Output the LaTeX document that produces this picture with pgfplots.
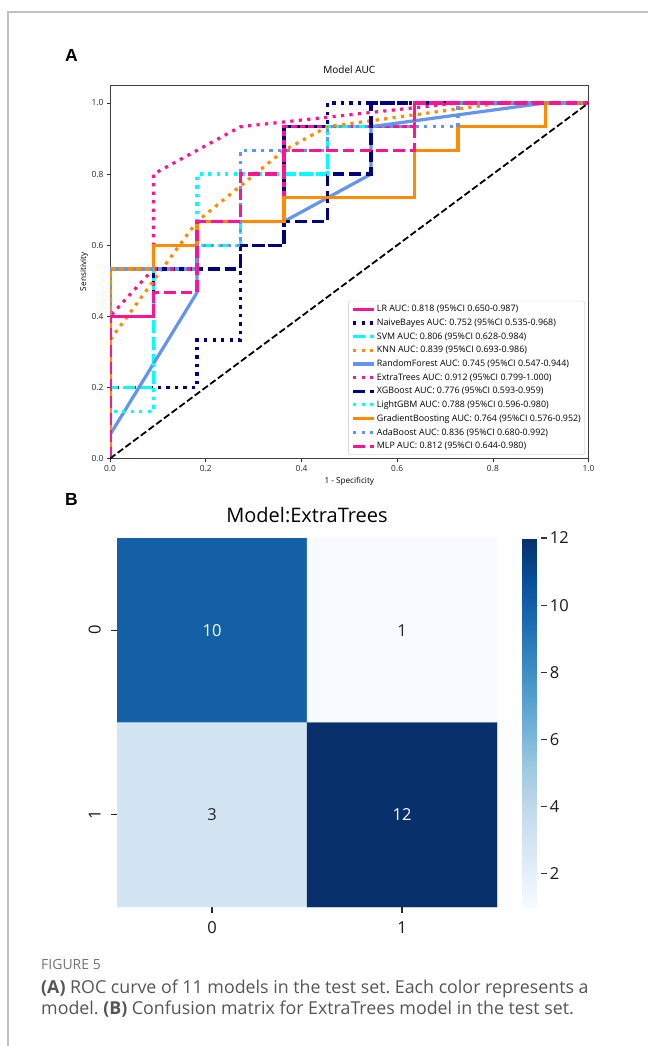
\documentclass[border=0pt]{standalone}
\usepackage{fontspec}
\setmainfont{Open Sans}
\newfontfamily\labfont{Liberation Sans}
\usepackage{pgfplots}
\pgfplotsset{compat=1.18}
\definecolor{dpink}{HTML}{FF1493}
\definecolor{navyc}{HTML}{000080}
\definecolor{aquac}{HTML}{00FFFF}
\definecolor{dorange}{HTML}{FF8C00}
\definecolor{cfblue}{HTML}{6495ED}
\definecolor{capgray}{HTML}{555555}
\pgfplotsset{
  colormap={blues}{rgb255=(247,251,255) rgb255=(222,235,247) rgb255=(198,219,239) rgb255=(158,202,225) rgb255=(107,174,214) rgb255=(66,146,198) rgb255=(33,113,181) rgb255=(8,81,156) rgb255=(8,48,107)},
  roc/.style={line width=3.2pt, line cap=butt, line join=miter},
  dotp/.style={dash pattern=on 3.2pt off 5.3pt},
  dashp/.style={dash pattern=on 11.8pt off 5.1pt},
}
\frenchspacing
\begin{document}
\frenchspacing
\begin{tikzpicture}
\draw[color=black!25, line width=1.8pt] (8pt,-1046pt) -- (8pt,-12pt) -- (648pt,-12pt);
\node[font=\labfont\bfseries\fontsize{17.5}{20}\selectfont, anchor=base west, inner sep=0pt] at (65pt,-61.5pt) {A};
\node[font=\labfont\bfseries\fontsize{17.5}{20}\selectfont, anchor=base west, inner sep=0pt] at (65pt,-505pt) {B};

\begin{axis}[
  at={(110pt,-458.5pt)}, anchor=south west, scale only axis,
  width=478.6pt, height=373.3pt,
  xmin=0, xmax=1, ymin=0, ymax=1.05,
  xtick={0,0.2,0.4,0.6,0.8,1}, ytick={0,0.2,0.4,0.6,0.8,1},
  xticklabels={0.0,0.2,0.4,0.6,0.8,1.0}, yticklabels={0.0,0.2,0.4,0.6,0.8,1.0},
  tick align=outside, xtick pos=bottom, ytick pos=left,
  major tick length=3pt, tick style={black!80, line width=0.7pt},
  axis line style={black!75, line width=0.7pt},
  ticklabel style={font=\fontsize{8.4}{10}\selectfont, text=black!85},
  title={Model AUC},
  title style={at={(axis description cs:0.5,1)}, anchor=base, yshift=5.2pt, font=\fontsize{10}{12}\selectfont},
  xlabel={1 - Specificity}, ylabel={Sensitivity},
  label style={font=\fontsize{8.2}{10}\selectfont},
  xlabel style={at={(axis description cs:0.5,-0.062)}, anchor=center},
  ylabel style={at={(axis description cs:-0.0543,0.5)}, anchor=center},
  legend style={at={(axis description cs:0.9925,0.0094)}, anchor=south east, draw=black!22, rounded corners=2pt, fill=white, font=\fontsize{8.9}{10.5}\selectfont, row sep=3.6pt, inner xsep=3pt, inner ysep=3.5pt, nodes={inner sep=1pt}},
  legend cell align=left,
  legend image code/.code={\draw[#1] (0pt,0pt) -- (21pt,0pt);},
]
\addplot[roc, dpink] coordinates {(0,0) (0,0.4) (0.0909,0.4) (0.0909,0.5333) (0.1818,0.5333) (0.1818,0.6667) (0.3636,0.6667) (0.3636,0.9333) (0.6364,0.9333) (0.6364,1) (1,1)};
\addlegendentry{LR AUC: 0.818 (95\%CI 0.650-0.987)}
\addplot[roc, dotp, navyc] coordinates {(0,0) (0,0.2) (0.1818,0.2) (0.1818,0.3333) (0.2727,0.3333) (0.2727,0.6) (0.3636,0.6) (0.3636,0.9333) (0.4545,0.9333) (0.4545,1) (1,1)};
\addlegendentry{NaiveBayes AUC: 0.752 (95\%CI 0.535-0.968)}
\addplot[roc, dashp, aquac] coordinates {(0,0) (0,0.2) (0.0909,0.2) (0.0909,0.5333) (0.1818,0.5333) (0.1818,0.6) (0.2727,0.6) (0.2727,0.8) (0.4545,0.8) (0.4545,0.9333) (0.5455,0.9333) (0.5455,1) (1,1)};
\addlegendentry{SVM AUC: 0.806 (95\%CI 0.628-0.984)}
\addplot[roc, dotp, dorange] coordinates {(0,0) (0,0.3333) (0.1818,0.6667) (0.3636,0.8667) (0.4545,0.9333) (0.8182,1) (1,1)};
\addlegendentry{KNN AUC: 0.839 (95\%CI 0.693-0.986)}
\addplot[roc, cfblue] coordinates {(0,0) (0,0.0667) (0.1818,0.4667) (0.1818,0.6667) (0.3636,0.6667) (0.5455,0.8) (0.5455,0.9333) (0.9091,1) (1,1)};
\addlegendentry{RandomForest AUC: 0.745 (95\%CI 0.547-0.944)}
\addplot[roc, dotp, dpink] coordinates {(0,0) (0,0.4) (0.0909,0.5333) (0.0909,0.8) (0.2727,0.9333) (0.7273,1) (1,1)};
\addlegendentry{ExtraTrees AUC: 0.912 (95\%CI 0.799-1.000)}
\addplot[roc, dashp, navyc] coordinates {(0,0) (0,0.4) (0.0909,0.4) (0.0909,0.5333) (0.2727,0.5333) (0.2727,0.6) (0.3636,0.6) (0.3636,0.6667) (0.4545,0.6667) (0.4545,0.8) (0.5455,0.8) (0.5455,1) (1,1)};
\addlegendentry{XGBoost AUC: 0.776 (95\%CI 0.593-0.959)}
\addplot[roc, dotp, aquac] coordinates {(0,0) (0,0.1333) (0.0909,0.1333) (0.0909,0.5333) (0.1818,0.5333) (0.1818,0.8) (0.4545,0.8) (0.4545,0.9333) (0.9091,0.9333) (0.9091,1) (1,1)};
\addlegendentry{LightGBM AUC: 0.788 (95\%CI 0.596-0.980)}
\addplot[roc, dorange] coordinates {(0,0) (0,0.5333) (0.0909,0.5333) (0.0909,0.6) (0.1818,0.6) (0.1818,0.6667) (0.3636,0.6667) (0.3636,0.7333) (0.6364,0.7333) (0.6364,0.8667) (0.7273,0.8667) (0.7273,0.9333) (0.9091,0.9333) (0.9091,1) (1,1)};
\addlegendentry{GradientBoosting AUC: 0.764 (95\%CI 0.576-0.952)}
\addplot[roc, dotp, cfblue] coordinates {(0,0) (0,0.5333) (0.1818,0.5333) (0.1818,0.6) (0.2727,0.6) (0.2727,0.8667) (0.4545,0.8667) (0.4545,0.9333) (0.7273,0.9333) (0.7273,1) (1,1)};
\addlegendentry{AdaBoost AUC: 0.836 (95\%CI 0.680-0.992)}
\addplot[roc, dashp, dpink] coordinates {(0,0) (0,0.4) (0.0909,0.4) (0.0909,0.4667) (0.1818,0.4667) (0.1818,0.6667) (0.2727,0.6667) (0.2727,0.8) (0.3636,0.8) (0.3636,0.8667) (0.6364,0.8667) (0.6364,1) (1,1)};
\addlegendentry{MLP AUC: 0.812 (95\%CI 0.644-0.980)}
\addplot[black, line width=1.8pt, dash pattern=on 6.7pt off 2.9pt, forget plot] coordinates {(0,0) (1,1)};
\end{axis}

\begin{axis}[
  at={(117pt,-907pt)}, anchor=south west, scale only axis,
  width=380pt, height=369pt,
  xmin=-0.5, xmax=1.5, ymin=-0.5, ymax=1.5, y dir=reverse,
  axis line style={draw=none},
  xtick={0,1}, ytick={0,1}, xticklabels={0,1}, yticklabels={0,1},
  tick align=outside, xtick pos=bottom, ytick pos=left,
  major tick length=5.8pt, tick style={black!85, line width=1.2pt},
  ticklabel style={font=\fontsize{16.5}{18}\selectfont, text=black!90},
  yticklabel style={rotate=90, anchor=south},
  yticklabel shift=7pt, xticklabel shift=5pt,
  title={Model:ExtraTrees},
  title style={at={(axis description cs:0.5,1)}, anchor=base, yshift=10pt, font=\fontsize{20}{22}\selectfont},
  colormap name=blues, point meta min=1, point meta max=12,
  colorbar,
  colorbar style={at={(parent axis.north east)}, anchor=north west, xshift=17pt, scale only axis, width=18.6pt, height=369pt, axis line style={draw=none}, ytick={2,4,6,8,10,12}, yticklabels={2,4,6,8,10,12}, tick align=outside, ytick pos=right, yticklabel pos=right, major tick length=5.8pt, tick style={black!80, line width=1.2pt}, yticklabel style={font=\fontsize{16.5}{18}\selectfont, text=black!90}, yticklabel shift=-0.5pt},
]
\addplot[matrix plot*, mesh/cols=2, point meta=explicit] coordinates {(0,0) [10] (1,0) [1] (0,1) [3] (1,1) [12]};
\addplot[draw=none, point meta=explicit symbolic, nodes near coords, nodes near coords style={anchor=center, font=\fontsize{16.5}{18}\selectfont, text=white}] coordinates {(0,0) [10] (1,1) [12]};
\addplot[draw=none, point meta=explicit symbolic, nodes near coords, nodes near coords style={anchor=center, font=\fontsize{16.5}{18}\selectfont, text=black!85}] coordinates {(1,0) [1] (0,1) [3]};
\end{axis}

\node[anchor=base west, inner sep=0pt, font=\fontsize{14}{16}\selectfont, text=black!55] at (41pt,-969pt) {FIGURE 5};
\node[anchor=base west, inner sep=0pt, font=\fontsize{17.8}{20}\selectfont, text=capgray] at (41pt,-993pt) {\textbf{(A)} ROC curve of 11 models in the test set. Each color represents a};
\node[anchor=base west, inner sep=0pt, font=\fontsize{17.8}{20}\selectfont, text=capgray] at (41pt,-1014.5pt) {model. \textbf{(B)} Confusion matrix for ExtraTrees model in the test set.};
\pgfresetboundingbox
\path[use as bounding box] (0pt,0pt) rectangle (648pt,-1046pt);
\end{tikzpicture}
\end{document}
